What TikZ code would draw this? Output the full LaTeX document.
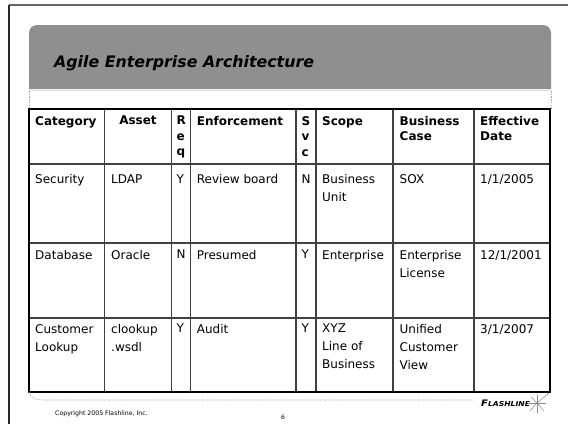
\documentclass[tikz,border=0pt]{standalone}
\usepackage{fontspec}
\setmainfont{DejaVu Sans}
\begin{document}
\begin{tikzpicture}[x=1pt,y=-1pt,
  hdr/.style={anchor=north west,inner sep=0pt,align=left,font=\fontsize{12}{15.5}\selectfont\bfseries},
  cell/.style={anchor=north west,inner sep=0pt,align=left,font=\fontsize{12}{18}\selectfont},
  grid/.style={line width=1.3pt,draw=black!75},
  outer/.style={line width=2pt,draw=black},
  dashy/.style={draw=black!35,line width=0.6pt,dash pattern=on 1.5pt off 1.2pt},
  spike/.style={draw=black!45,line width=0.5pt}]
\useasboundingbox (0,0) rectangle (568,424);
% frame
\draw[line width=1.2pt,black!60] (9,5) -- (568,5);
\draw[line width=1.2pt,black!85] (9,5) -- (9,424);
% title bar
\fill[black!44] (29,89) {[rounded corners=8pt] -- (29,25) -- (551,25) -- (551,60)} -- (551,89) -- cycle;
\draw[black!12,line width=0.8pt] (29,90.5) -- (551,90.5);
\node[anchor=base west,inner sep=0pt,font=\fontsize{15.8}{18}\selectfont\bfseries\itshape] (title) at (54,67) {Agile Enterprise Architecture};
\draw[dashy] (29,91) -- (29,109);
\draw[dashy] (551,91) -- (551,109);
% table grid
\foreach \y in {164,243,318} \draw[grid] (29,\y) -- (550,\y);
\foreach \x in {104.7,171.7,190.7,296,316,393,474} \draw[grid] (\x,109) -- (\x,392);
\draw[outer] (29,109) rectangle (550,392);
% header
\node[hdr] (h1) at (35,116) {Category};
\node[hdr,anchor=north] (h2) at (138,116) {Asset};
\node[hdr] (h3) at (176.5,116) {R\\e\\q};
\node[hdr] (h4) at (196.7,116) {Enforcement};
\node[hdr] (h5) at (301.5,116) {S\\v\\c};
\node[hdr] (h6) at (322,116) {Scope};
\node[hdr] (h7) at (399.5,116) {Business\\Case};
\node[hdr] (h8) at (480,116) {Effective\\Date};
% row 1
\node[cell] (a1) at (35,174.5) {Security};
\node[cell] (b1) at (111,174.5) {LDAP};
\node[cell] (c1) at (176.5,174.5) {Y};
\node[cell] (d1) at (196.7,174.5) {Review board};
\node[cell] (e1) at (301.5,174.5) {N};
\node[cell] (f1) at (322,174.5) {Business\\Unit};
\node[cell] (g1) at (399.5,174.5) {SOX};
\node[cell] (k1) at (480,174.5) {1/1/2005};
% row 2
\node[cell] (a2) at (35,250) {Database};
\node[cell] (b2) at (111,250) {Oracle};
\node[cell] (c2) at (176.5,250) {N};
\node[cell] (d2) at (196.7,250) {Presumed};
\node[cell] (e2) at (301.5,250) {Y};
\node[cell] (f2) at (322,250) {Enterprise};
\node[cell] (g2) at (399.5,250) {Enterprise\\License};
\node[cell] (k2) at (480,250) {12/1/2001};
% row 3
\node[cell] (a3) at (35,324) {Customer\\Lookup};
\node[cell] (b3) at (111,324) {clookup\\.wsdl};
\node[cell] (c3) at (176.5,324) {Y};
\node[cell] (d3) at (196.7,324) {Audit};
\node[cell] (e3) at (301.5,324) {Y};
\node[cell] (f3) at (322,324) {XYZ\\Line of\\Business};
\node[cell] (g3) at (399.5,324) {Unified\\Customer\\View};
\node[cell] (k3) at (480,324) {3/1/2007};
% footer
\draw[dashy] (29,392) .. controls (30,398) and (36,400) .. (46,400) -- (473,400);
\node[anchor=base west,inner sep=0pt,font=\bfseries\itshape,xscale=1.12] (logo) at (481,406) {{\fontsize{9}{9}\selectfont F}{\fontsize{6.8}{7}\selectfont LASHLINE}};
\coordinate (star) at (537,403);
\draw[spike] (star) -- ++(12,-10);
\draw[spike] (star) -- ++(-7,8);
\draw[spike] (star) -- ++(7,8);
\draw[spike] (star) -- ++(-6,-6);
\draw[spike] (star) -- ++(0,-8);
\draw[spike] (star) -- ++(0,10);
\draw[spike] (star) -- ++(-9,0);
\draw[spike] (star) -- ++(9,0);
\node[anchor=base west,inner sep=0pt,font=\fontsize{6.2}{7}\selectfont] (copy) at (55,415) {Copyright 2005 Flashline, Inc.};
\node[anchor=base,inner sep=0pt,font=\fontsize{6}{7}\selectfont] (page) at (283,419) {6};
\end{tikzpicture}
\end{document}
